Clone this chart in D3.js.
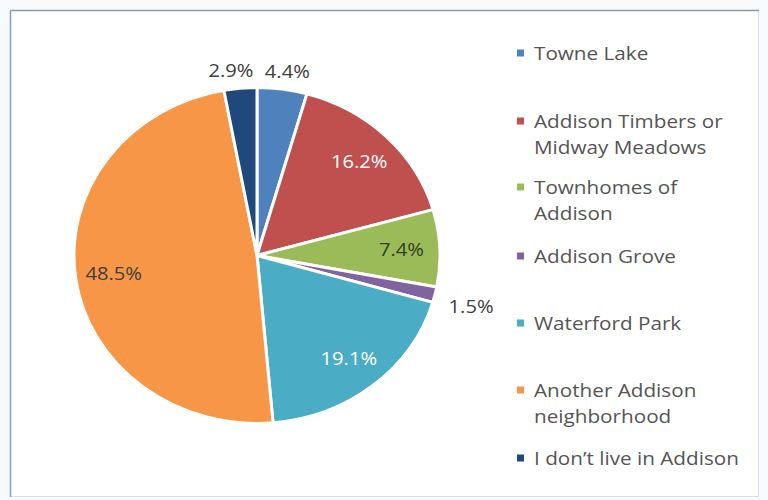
<!DOCTYPE html>
<html><head><meta charset="utf-8">
<script src="https://cdn.jsdelivr.net/npm/d3@7"></script>
<style>
html,body{margin:0;padding:0;background:#f7fbfd;}
svg{display:block;}
</style></head>
<body>
<svg id="chart" width="768" height="500"></svg>
<script>
const categories = ["Towne Lake","Addison Timbers or Midway Meadows","Townhomes of Addison","Addison Grove","Waterford Park","Another Addison neighborhood","I don\u2019t live in Addison"];
const values = [4.4, 16.2, 7.4, 1.5, 19.1, 48.5, 2.9];
const legendLines = [["Towne Lake"],["Addison Timbers or","Midway Meadows"],["Townhomes of","Addison"],["Addison Grove"],["Waterford Park"],["Another Addison","neighborhood"],["I don\u2019t live in Addison"]];
const colors = ["#4f81bd","#c0504d","#9bbb59","#8064a2","#4bacc6","#f79646","#1f497d"];
const labelColors = ["#404040","#ffffff","#2f3f1f","#404040","#ffffff","#404040","#404040"];

const svg = d3.select("#chart");
const font = "'Open Sans', sans-serif";
const sx = 183/168; // horizontal stretch of the whole picture

// frame
svg.append("rect").attr("x",10.5).attr("y",10.5).attr("width",748).attr("height",486)
  .attr("fill","#ffffff").attr("stroke","#d9e2ea").attr("stroke-width",1);
svg.append("line").attr("x1",10.5).attr("x2",759).attr("y1",10.5).attr("y2",10.5).attr("stroke","#8f9aa6").attr("stroke-width",1.5);
svg.append("line").attr("x1",10.5).attr("x2",10.5).attr("y1",10.5).attr("y2",497).attr("stroke","#7f9fd0").attr("stroke-width",1.5);

const cx = 257, cy = 255.5, ry = 168, rx = ry*sx;
const pie = d3.pie().sort(null).value(d => d)(values);
const arc = d3.arc().innerRadius(0).outerRadius(ry);

const g = svg.append("g").attr("transform",`translate(${cx},${cy}) scale(${sx},1)`);
g.selectAll("path").data(pie).join("path")
  .attr("d", arc)
  .attr("fill",(d,i)=>colors[i])
  .attr("stroke","#ffffff").attr("stroke-width",3).attr("stroke-linejoin","round")
  .attr("vector-effect","non-scaling-stroke");

// labels
const lg = svg.append("g").attr("transform",`translate(${cx},${cy})`);
const fs = 18.5;
pie.forEach((d,i)=>{
  const a = (d.startAngle + d.endAngle)/2;
  const s = Math.sin(a), c = Math.cos(a);
  const txt = values[i].toFixed(1) + "%";
  let x, y;
  if (values[i] > 5) {
    const r = 0.79;
    x = s*rx*r; y = -c*ry*r;
  } else {
    const r = 1.05;
    x = s*rx*r + 28*s + (s<0 ? -6 : 0);
    y = -c*ry*r - 13*c + 3 + 4*Math.abs(s);
  }
  lg.append("text").attr("transform",`translate(${x},${y}) scale(${sx},1)`).attr("dy","0.36em")
    .attr("text-anchor","middle").attr("font-family",font).attr("font-size",fs)
    .attr("fill",labelColors[i]).text(txt);
});

// legend
const legY = [53, 121, 187, 256, 323, 390, 458];
const leg = svg.append("g");
legendLines.forEach((lines,i)=>{
  leg.append("rect").attr("x",517).attr("y",legY[i]-3.5).attr("width",7).attr("height",7).attr("fill",colors[i]);
  lines.forEach((t,j)=>{
    leg.append("text").attr("transform",`translate(534,${legY[i]+j*26.5}) scale(${sx},1)`).attr("dy","0.36em")
      .attr("font-family",font).attr("font-size",19).attr("fill","#555555").text(t);
  });
});
</script>
</body></html>
